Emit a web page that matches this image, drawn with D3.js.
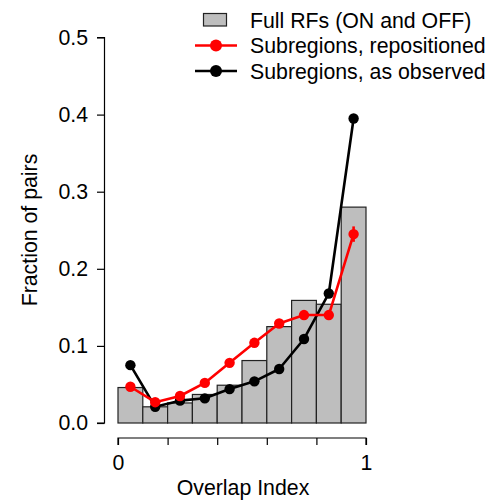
<!DOCTYPE html>
<html>
<head>
<meta charset="utf-8">
<script src="https://cdn.jsdelivr.net/npm/d3@7"></script>
<style>
  html, body { margin: 0; padding: 0; background: #fff; }
  svg { display: block; font-family: Arial, "Liberation Sans", sans-serif; }
</style>
</head>
<body>
<svg id="chart" width="488" height="502"></svg>
<script>
// ---- data ----
const binStarts = [0, 0.1, 0.2, 0.3, 0.4, 0.5, 0.6, 0.7, 0.8, 0.9];
const binCenters = [0.05, 0.15, 0.25, 0.35, 0.45, 0.55, 0.65, 0.75, 0.85, 0.95];
const fullRFs = [0.046, 0.021, 0.026, 0.037, 0.049, 0.081, 0.125, 0.159, 0.154, 0.280];
const repositioned = [0.047, 0.027, 0.035, 0.052, 0.078, 0.104, 0.129, 0.140, 0.140, 0.245];
const repositionedErr = [0, 0, 0, 0, 0, 0, 0, 0, 0, 0.010];
const observed = [0.075, 0.021, 0.029, 0.032, 0.044, 0.054, 0.070, 0.109, 0.168, 0.395];
const yTicks = [0, 0.1, 0.2, 0.3, 0.4, 0.5];
const xTicks = [0, 0.2, 0.4, 0.6, 0.8, 1];
const xTickLabels = ["0", "", "", "", "", "1"];
const legendLabels = ["Full RFs (ON and OFF)", "Subregions, repositioned", "Subregions, as observed"];

const svg = d3.select("#chart");
const x = d3.scaleLinear().domain([0, 1]).range([118, 366]);
const y = d3.scaleLinear().domain([0, 0.5]).range([423, 37.5]);
const FS = 21.3;

// bars
svg.append("g").selectAll("rect").data(binStarts).join("rect")
  .attr("x", d => x(d))
  .attr("y", (d, i) => y(fullRFs[i]))
  .attr("width", d => x(d + 0.1) - x(d))
  .attr("height", (d, i) => y(0) - y(fullRFs[i]))
  .attr("fill", "#bebebe")
  .attr("stroke", "#222")
  .attr("stroke-width", 1.2);

// y axis
const yAxis = d3.axisLeft(y).tickValues(yTicks).tickFormat(d3.format(".1f")).tickSize(7.5).tickPadding(9);
const gy = svg.append("g").attr("transform", "translate(104.5,0)").call(yAxis);
gy.select(".domain").attr("d", `M-7.5,${y(0)}H0V${y(0.5)}H-7.5`).attr("stroke", "#000").attr("stroke-width", 1.2);
gy.selectAll(".tick line").attr("stroke", "#000").attr("stroke-width", 1.2);
gy.selectAll("text").attr("font-size", FS).attr("font-family", "Arial, 'Liberation Sans', sans-serif").attr("fill", "#000");

// x axis
const xAxis = d3.axisBottom(x).tickValues(xTicks).tickFormat((d, i) => xTickLabels[i]).tickSize(7).tickPadding(10);
const gx = svg.append("g").attr("transform", "translate(0,438)").call(xAxis);
gx.select(".domain").attr("d", `M${x(0)},7V0H${x(1)}V7`).attr("stroke", "#000").attr("stroke-width", 1.2);
gx.selectAll(".tick line").attr("stroke", "#000").attr("stroke-width", 1.2);
gx.selectAll("text").attr("font-size", FS).attr("font-family", "Arial, 'Liberation Sans', sans-serif").attr("fill", "#000");

// axis titles
svg.append("text").attr("x", x(0.5) + 1).attr("y", 495).attr("text-anchor", "middle")
  .attr("font-size", FS).text("Overlap Index");
svg.append("text").attr("transform", "translate(37,230) rotate(-90)").attr("text-anchor", "middle")
  .attr("font-size", FS).text("Fraction of pairs");

// lines
const line = d3.line().x((d, i) => x(binCenters[i])).y(d => y(d));
function series(vals, color) {
  svg.append("path").datum(vals).attr("d", line).attr("fill", "none")
    .attr("stroke", color).attr("stroke-width", 2.6).attr("stroke-linejoin", "round");
  svg.append("g").selectAll("circle").data(vals).join("circle")
    .attr("cx", (d, i) => x(binCenters[i])).attr("cy", d => y(d)).attr("r", 5.2).attr("fill", color);
}
series(observed, "#000");
// error bars for repositioned
svg.append("g").selectAll("line").data(repositioned).join("line")
  .attr("x1", (d, i) => x(binCenters[i])).attr("x2", (d, i) => x(binCenters[i]))
  .attr("y1", (d, i) => y(d - repositionedErr[i])).attr("y2", (d, i) => y(d + repositionedErr[i]))
  .attr("stroke", "#ff0000").attr("stroke-width", 2.6);
series(repositioned, "#ff0000");

// legend
const lg = svg.append("g");
lg.append("rect").attr("x", 203.5).attr("y", 13.5).attr("width", 23).attr("height", 12.5)
  .attr("fill", "#bebebe").attr("stroke", "#222").attr("stroke-width", 1.2);
[["#ff0000", 45.5], ["#000", 71]].forEach(([c, yy]) => {
  lg.append("line").attr("x1", 195).attr("x2", 237).attr("y1", yy).attr("y2", yy)
    .attr("stroke", c).attr("stroke-width", 2.6);
  lg.append("circle").attr("cx", 216).attr("cy", yy).attr("r", 6).attr("fill", c);
});
lg.selectAll("text.lab").data(legendLabels).join("text").attr("class", "lab")
  .attr("x", 250).attr("y", (d, i) => 27.5 + i * 25.7).attr("font-size", FS).text(d => d);
</script>
</body>
</html>
